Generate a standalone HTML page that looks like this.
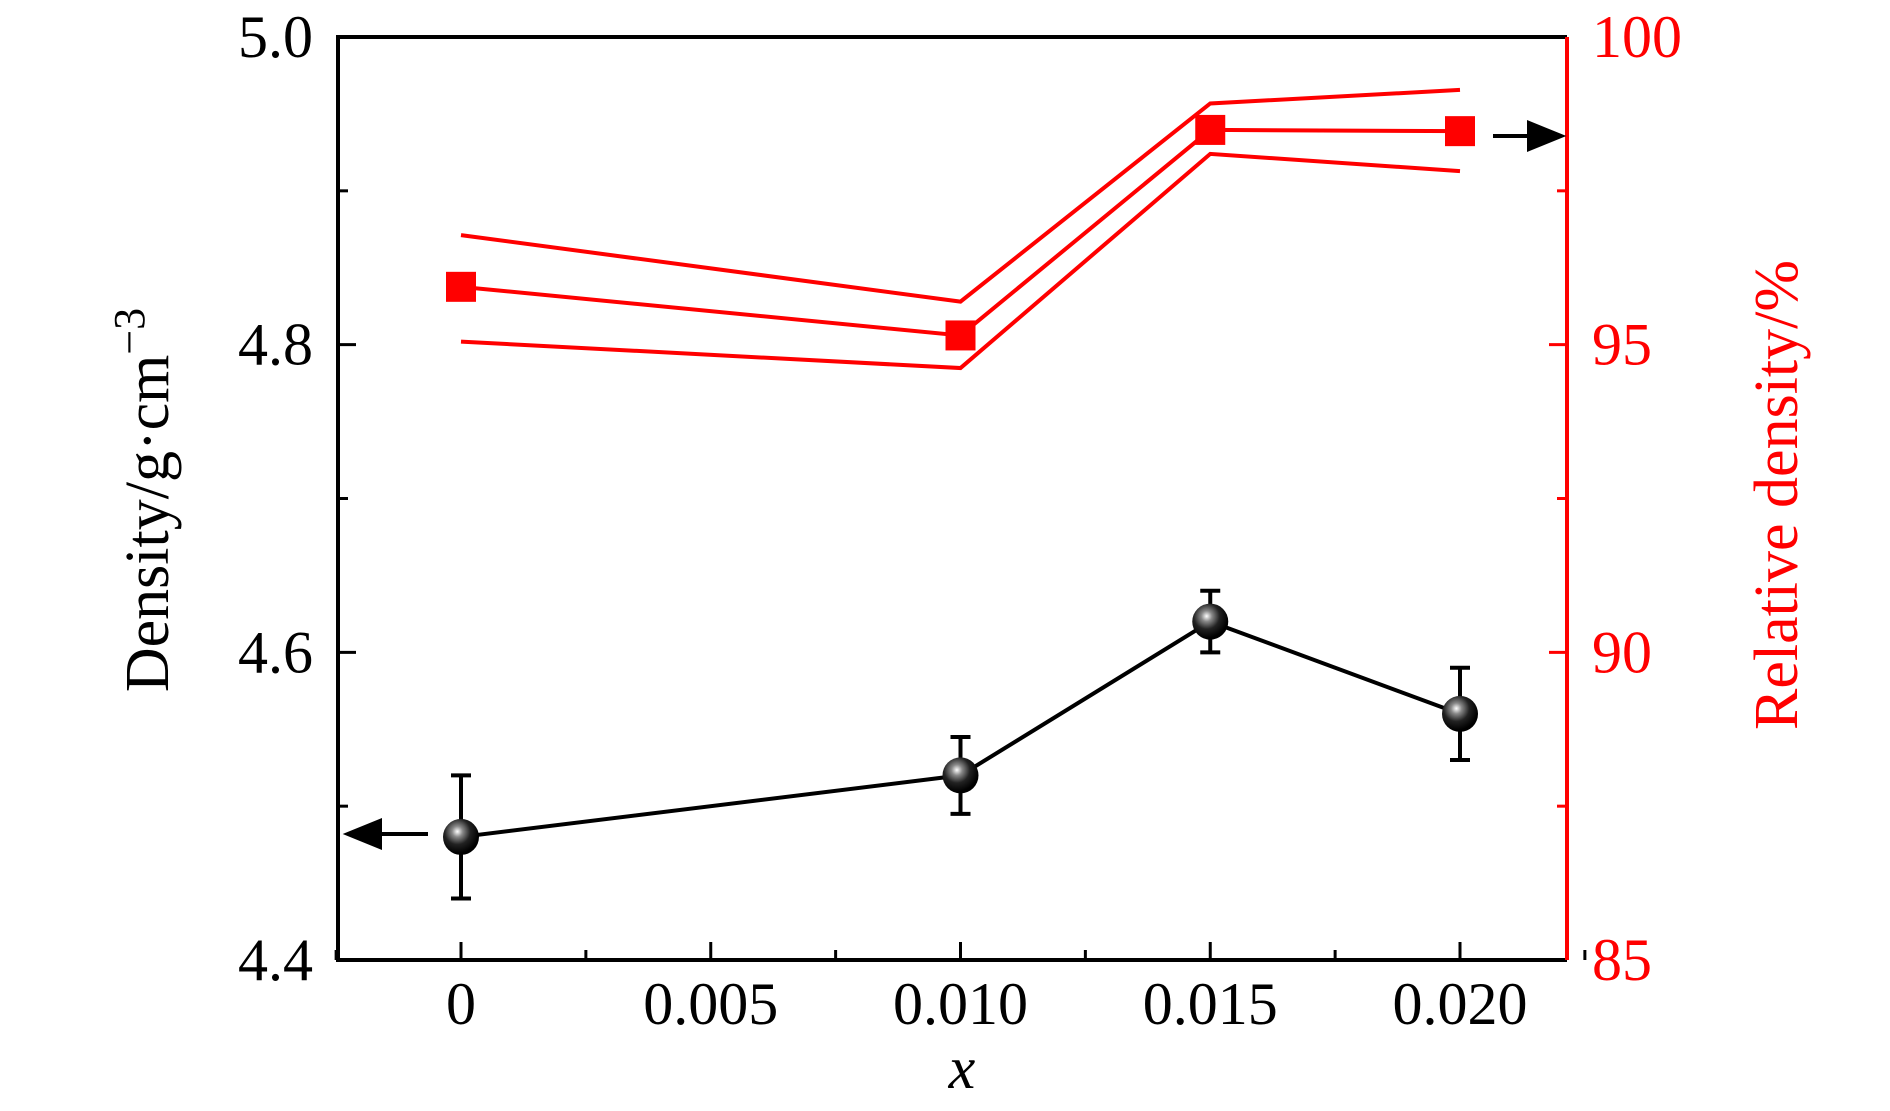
<!DOCTYPE html>
<html><head><meta charset="utf-8"><style>
html,body{margin:0;padding:0;background:#fff;}
svg{display:block;font-family:"Liberation Serif",serif;}
</style></head><body>
<svg id="chart" width="1890" height="1111" viewBox="0 0 1890 1111" xmlns="http://www.w3.org/2000/svg">
<defs>
<radialGradient id="ball" cx="0.4" cy="0.35" r="0.6">
<stop offset="0" stop-color="#fff"/><stop offset="0.25" stop-color="#888"/><stop offset="0.6" stop-color="#222"/><stop offset="1" stop-color="#000"/>
</radialGradient>
</defs>
<g id="plot"></g>
</svg>
<script>
const xVals = [0, 0.010, 0.015, 0.020];
const density = [4.48, 4.52, 4.62, 4.56];
const densityErr = [0.04, 0.025, 0.02, 0.03];
const relDensity = [95.94, 95.15, 98.49, 98.47];
const relUpper = [96.78, 95.70, 98.92, 99.14];
const relLower = [95.05, 94.62, 98.10, 97.82];
const xTicks = [0, 0.005, 0.010, 0.015, 0.020];
const xTickLabels = ["0", "0.005", "0.010", "0.015", "0.020"];
const yLeftTicks = [4.4, 4.6, 4.8, 5.0];
const yLeftLabels = ["4.4", "4.6", "4.8", "5.0"];
const yRightTicks = [85, 90, 95, 100];
const yRightLabels = ["85", "90", "95", "100"];

const L=338, R=1567, T=37, B=960;
const sx = v => 461 + (v-0)/(0.020)*(1460-461);
const syL = v => B - (v-4.4)/(0.6)*(B-T);
const syR = v => B - (v-85)/(15)*(B-T);
const g = document.getElementById('plot');
const NS='http://www.w3.org/2000/svg';
function mk(tag, attrs){const e=document.createElementNS(NS,tag);for(const k in attrs)e.setAttribute(k,attrs[k]);g.appendChild(e);return e;}

xTicks.forEach((v,i)=>{
  const t=mk('line',{x1:sx(v),x2:sx(v),y1:B,y2:B-18,stroke:'#000','stroke-width':3});
  
  
  const m=mk('line',{x1:sx(v+0.0025),x2:sx(v+0.0025),y1:B,y2:B-10,stroke:'#000','stroke-width':3});
  
  
  const tx=mk('text',{x:sx(v),y:1024,'font-size':60,'text-anchor':'middle',fill:'#000'});
  tx.textContent=xTickLabels[i];
  
  
});
mk('line',{x1:sx(-0.0025),x2:sx(-0.0025),y1:B,y2:B-10,stroke:'#000','stroke-width':3});
yLeftTicks.forEach((v,i)=>{
  const t=mk('line',{x1:L,x2:L+18,y1:syL(v),y2:syL(v),stroke:'#000','stroke-width':3});
  
  
  if(v<5.0){const m=mk('line',{x1:L,x2:L+10,y1:syL(v+0.1),y2:syL(v+0.1),stroke:'#000','stroke-width':3});
  
  }
  const tx=mk('text',{x:L-25,y:syL(v)+20,'font-size':60,'text-anchor':'end',fill:'#000'});
  tx.textContent=yLeftLabels[i];
  
  
});
yRightTicks.forEach((v,i)=>{
  const t=mk('line',{x1:R,x2:R-18,y1:syR(v),y2:syR(v),stroke:'#f00','stroke-width':3});
  
  
  if(v<100){const m=mk('line',{x1:R,x2:R-10,y1:syR(v+2.5),y2:syR(v+2.5),stroke:'#f00','stroke-width':3});
  
  }
  const tx=mk('text',{x:R+25,y:syR(v)+20,'font-size':60,'text-anchor':'start',fill:'#f00'});
  tx.textContent=yRightLabels[i];
  
  
});
const ax1=mk('path',{d:`M${R},${T} L${L},${T} L${L},${B} L${R},${B}`,fill:'none',stroke:'#000','stroke-width':4});


const ax2=mk('line',{x1:R,x2:R,y1:T,y2:B,stroke:'#f00','stroke-width':4});



function poly(arr,name){const p=mk('polyline',{points:arr.map((v,i)=>sx(xVals[i])+','+syR(v)).join(' '),fill:'none',stroke:'#f00','stroke-width':4});

}
poly(relUpper,'relative-density-upper-band');
poly(relLower,'relative-density-lower-band');
poly(relDensity,'relative-density-line');
relDensity.forEach((v,i)=>{
  const r=mk('rect',{x:sx(xVals[i])-15,y:syR(v)-15,width:30,height:30,fill:'#f00'});
  
  
});
const dl=mk('polyline',{points:density.map((v,i)=>sx(xVals[i])+','+syL(v)).join(' '),fill:'none',stroke:'#000','stroke-width':4});


density.forEach((v,i)=>{
  const x=sx(xVals[i]), y1=syL(v+densityErr[i]), y2=syL(v-densityErr[i]);
  const e=mk('path',{d:`M${x},${y1}V${y2}M${x-10},${y1}H${x+10}M${x-10},${y2}H${x+10}`,stroke:'#000','stroke-width':4,fill:'none'});
  
  
  const c=mk('circle',{cx:x,cy:syL(v),r:18,fill:'url(#ball)'});
  
  
});
const a1=mk('path',{d:'M428,834 H376 M348,834 L380,821 L380,847 Z',stroke:'#000','stroke-width':4,fill:'#000'});


const a2=mk('path',{d:'M1493,136 H1533 M1561,136 L1529,123 L1529,149 Z',stroke:'#000','stroke-width':4,fill:'#000'});



const xt=mk('text',{x:962,y:1088,'font-size':60,'font-style':'italic','text-anchor':'middle',fill:'#000'});
xt.textContent='x';


const yl=mk('text',{x:0,y:0,'font-size':62,'text-anchor':'middle',fill:'#000',transform:'translate(168,500) rotate(-90)'});
yl.innerHTML='Density/g·cm<tspan dy="-24" font-size="44">−3</tspan>';


const yr=mk('text',{x:0,y:0,'font-size':62,'text-anchor':'middle',fill:'#f00',transform:'translate(1797,495) rotate(-90)'});
yr.textContent='Relative density/%';


</script>
</body></html>
